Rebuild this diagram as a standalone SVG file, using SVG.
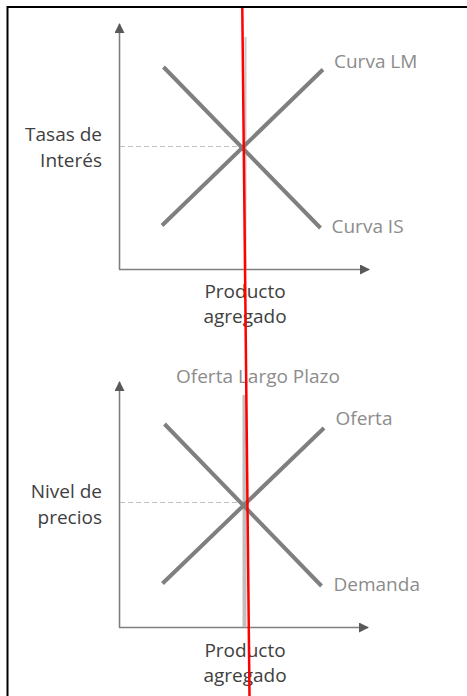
<svg xmlns="http://www.w3.org/2000/svg" width="467" height="696" viewBox="0 0 467 696">
<defs>
<marker id="arr" viewBox="0 0 10 10" refX="9" refY="5" markerWidth="13" markerHeight="10" markerUnits="userSpaceOnUse" orient="auto">
<path d="M0,0 L10,5 L0,10 Z" fill="#595959"/>
</marker>
</defs>
<style>
.axis{stroke:#7f7f7f;stroke-width:1.6;fill:none}
.curve{stroke:#7f7f7f;stroke-width:4;fill:none}
.dash{stroke:#bfbfbf;stroke-width:1.2;stroke-dasharray:5 3;fill:none}
.lbl{font-family:"Open Sans","Liberation Sans",sans-serif;font-size:19px;fill:#404040}
.clbl{font-family:"Open Sans","Liberation Sans",sans-serif;font-size:19px;fill:#8c8c8c}
</style>
<rect width="467" height="696" fill="#ffffff"/>
<rect x="7.5" y="7" width="480" height="710" fill="none" stroke="#000" stroke-width="2"/>

<g id="chart-top">
<g id="connectors-top">
<line class="axis" x1="119.5" y1="269.5" x2="119.5" y2="24" marker-end="url(#arr)"/>
<line class="axis" x1="119" y1="269.5" x2="369" y2="269.5" marker-end="url(#arr)"/>
<line class="dash" x1="120" y1="146.5" x2="243" y2="146.5"/>
<line x1="245.5" y1="37" x2="245.5" y2="269" stroke="#c8c8c8" stroke-width="2"/>
</g>
<g id="curva-is"><line class="curve" x1="163.5" y1="67" x2="320.5" y2="228"/><text class="clbl" x="331.5" y="233">Curva IS</text></g>
<g id="curva-lm"><line class="curve" x1="162" y1="225.5" x2="323" y2="69.5"/><text class="clbl" x="334" y="67.5">Curva LM</text></g>
<g id="tasas"><text class="lbl" x="102" y="140.5" text-anchor="end">Tasas de</text><text class="lbl" x="102" y="166.5" text-anchor="end">Interés</text></g>
<g id="producto-top"><text class="lbl" x="245" y="298" text-anchor="middle">Producto</text><text class="lbl" x="245" y="322.5" text-anchor="middle">agregado</text></g>
</g>

<g id="chart-bottom">
<g id="connectors-bottom">
<line class="axis" x1="119.5" y1="627.5" x2="119.5" y2="382" marker-end="url(#arr)"/>
<line class="axis" x1="119" y1="627.5" x2="368" y2="627.5" marker-end="url(#arr)"/>
<line class="dash" x1="120" y1="502.5" x2="243" y2="502.5"/>
</g>
<g id="oferta-lp"><line x1="244.5" y1="395" x2="244.5" y2="627" stroke="#bfbfbf" stroke-width="4"/><text class="clbl" x="258" y="383" text-anchor="middle">Oferta Largo Plazo</text></g>
<g id="demanda"><line class="curve" x1="164.5" y1="424" x2="321.5" y2="586"/><text class="clbl" x="333.5" y="590.5">Demanda</text></g>
<g id="oferta"><line class="curve" x1="162.5" y1="583.5" x2="324" y2="428"/><text class="clbl" x="335.5" y="425">Oferta</text></g>
<g id="nivel"><text class="lbl" x="102" y="498" text-anchor="end">Nivel de</text><text class="lbl" x="102" y="523.5" text-anchor="end">precios</text></g>
<g id="producto-bottom"><text class="lbl" x="245" y="656.5" text-anchor="middle">Producto</text><text class="lbl" x="245" y="681.5" text-anchor="middle">agregado</text></g>
</g>

<g id="red-line"><line x1="242.3" y1="8" x2="249.5" y2="696" stroke="#ff0000" stroke-width="2.5"/></g>
</svg>
